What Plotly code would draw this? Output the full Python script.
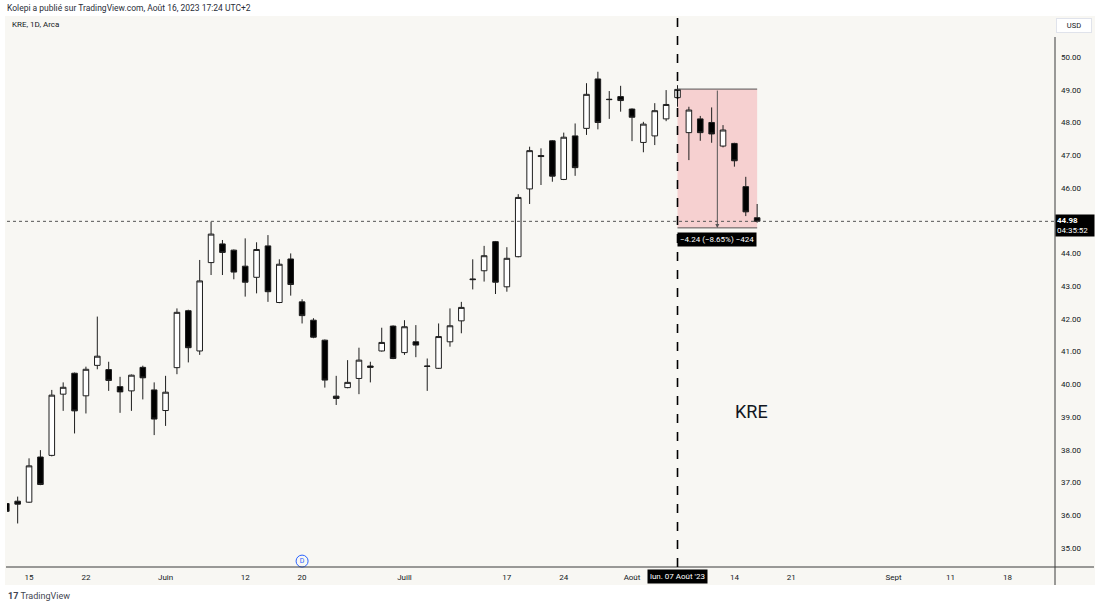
import pandas as pd
import plotly.graph_objects as go

# KRE daily candles (USD)
dates = ["2023-05-11", "2023-05-12", "2023-05-15", "2023-05-16", "2023-05-17", "2023-05-18",
         "2023-05-19", "2023-05-22", "2023-05-23", "2023-05-24", "2023-05-25", "2023-05-26",
         "2023-05-30", "2023-05-31", "2023-06-01", "2023-06-02", "2023-06-05", "2023-06-06",
         "2023-06-07", "2023-06-08", "2023-06-09", "2023-06-12", "2023-06-13", "2023-06-14",
         "2023-06-15", "2023-06-16", "2023-06-20", "2023-06-21", "2023-06-22", "2023-06-23",
         "2023-06-26", "2023-06-27", "2023-06-28", "2023-06-29", "2023-06-30", "2023-07-03",
         "2023-07-05", "2023-07-06", "2023-07-07", "2023-07-10", "2023-07-11", "2023-07-12",
         "2023-07-13", "2023-07-14", "2023-07-17", "2023-07-18", "2023-07-19", "2023-07-20",
         "2023-07-21", "2023-07-24", "2023-07-25", "2023-07-26", "2023-07-27", "2023-07-28",
         "2023-07-31", "2023-08-01", "2023-08-02", "2023-08-03", "2023-08-04", "2023-08-07",
         "2023-08-08", "2023-08-09", "2023-08-10", "2023-08-11", "2023-08-14", "2023-08-15",
         "2023-08-16"]
opens = [36.36, 36.43, 36.40, 37.78, 37.83, 39.70, 40.34, 39.65, 40.58, 40.45, 39.93, 39.80,
         40.52, 39.83, 39.20, 40.51, 42.25, 41.02, 43.72, 44.29, 44.10, 43.61, 43.27, 44.23,
         42.50, 43.83, 42.52, 41.96, 41.35, 39.64, 39.90, 40.18, 40.56, 41.02, 41.78, 40.97,
         41.30, 40.56, 40.49, 41.30, 41.94, 43.22, 43.47, 44.36, 42.98, 43.90, 45.97, 46.99,
         47.44, 46.26, 47.59, 47.82, 49.33, 48.71, 48.79, 48.41, 47.39, 47.59, 48.11, 48.76,
         47.69, 48.11, 48.00, 47.28, 47.36, 46.04, 45.09]
highs = [36.87, 36.57, 37.74, 37.99, 39.83, 40.06, 40.36, 40.54, 42.07, 40.69, 40.23, 40.30,
         40.57, 40.06, 40.26, 42.32, 42.28, 43.80, 44.97, 44.41, 44.12, 44.46, 44.34, 44.56,
         43.82, 44.00, 42.60, 42.02, 41.37, 40.26, 40.74, 41.12, 40.69, 41.73, 41.80, 41.96,
         41.81, 40.79, 41.86, 42.32, 42.52, 43.82, 44.23, 44.38, 44.19, 45.81, 47.26, 47.21,
         47.46, 47.69, 47.97, 49.20, 49.55, 48.96, 49.12, 48.43, 48.02, 48.59, 48.99, 49.14,
         48.48, 48.20, 48.46, 47.92, 47.38, 46.34, 45.51]
lows = [35.98, 35.75, 36.38, 36.92, 37.80, 39.19, 38.50, 39.11, 40.46, 39.80, 39.13, 39.19,
        39.54, 38.45, 38.73, 40.31, 40.67, 40.90, 43.34, 43.34, 43.21, 42.68, 42.78, 42.52,
        42.48, 42.71, 41.86, 41.41, 39.90, 39.37, 39.88, 39.70, 40.06, 41.00, 40.77, 40.90,
        40.83, 39.80, 40.47, 41.15, 41.56, 42.90, 43.14, 42.76, 42.83, 43.88, 45.51, 46.09,
        46.19, 46.24, 46.37, 47.62, 47.79, 48.11, 48.33, 47.43, 47.09, 47.31, 48.04, 48.48,
        46.85, 47.44, 47.38, 47.24, 46.65, 45.14, 44.94]
closes = [36.12, 36.34, 37.51, 36.94, 39.67, 39.91, 39.19, 40.46, 40.86, 40.12, 39.77, 40.28,
          40.20, 38.94, 39.76, 42.20, 41.12, 43.16, 44.59, 44.03, 43.43, 43.12, 44.12, 42.83,
          43.67, 43.05, 42.10, 41.44, 40.13, 39.57, 40.06, 40.74, 40.52, 41.28, 40.79, 41.76,
          41.20, 40.55, 41.46, 41.79, 42.35, 43.20, 43.93, 43.12, 43.85, 45.71, 47.14, 46.96,
          46.36, 47.55, 46.62, 48.86, 48.00, 48.70, 48.67, 48.16, 47.95, 48.36, 48.55, 49.01,
          48.38, 47.69, 47.65, 47.77, 46.83, 45.27, 44.98]

holidays = ["2023-05-29", "2023-06-19", "2023-07-04", "2023-09-04"]
tick_dates = ["2023-05-15", "2023-05-22", "2023-06-01", "2023-06-12", "2023-06-20", "2023-07-03",
              "2023-07-17", "2023-07-24", "2023-08-01", "2023-08-14", "2023-08-21", "2023-09-01",
              "2023-09-11", "2023-09-18"]
tick_text = ["15", "22", "Juin", "12", "20", "Juill", "17", "24", "Août", "14", "21", "Sept", "11", "18"]
# 45.00 is hidden behind the last-price tag
price_ticks = [35, 36, 37, 38, 39, 40, 41, 42, 43, 44, 46, 47, 48, 49, 50]

last_price = 44.98
measure_start = "2023-08-07"
measure_end = "2023-08-16"
measure_top = 49.02
measure_bottom = 44.78
dividend_date = "2023-06-20"

CREAM = "#f8f7f3"
INK = "#131722"
FONT = "Roboto, Liberation Sans, sans-serif"

# bars sit at midday so bodies never spill into weekend breaks
noon = pd.Timedelta(hours=12)
x = pd.to_datetime(dates) + noon
ticks_x = pd.to_datetime(tick_dates) + noon
m0 = pd.Timestamp(measure_start) + noon
m1 = pd.Timestamp(measure_end) + noon
m_mid = pd.Timestamp("2023-08-11")


def px_x(px):
    return (px - 7) / 1048


def px_y(py):
    return (567 - py) / 551


fig = go.Figure()
fig.add_trace(go.Candlestick(
    x=x, open=opens, high=highs, low=lows, close=closes,
    increasing=dict(fillcolor="#ffffff", line=dict(color="#1e1e1e", width=1)),
    decreasing=dict(fillcolor="#000000", line=dict(color="#1e1e1e", width=1)),
    hoverinfo="skip", showlegend=False,
))
fig.add_trace(go.Scatter(
    x=[pd.Timestamp(dividend_date) + noon], y=[34.60], mode="markers+text",
    marker=dict(symbol="circle", size=12, color=CREAM, line=dict(color="#2962ff", width=1)),
    text=["D"], textposition="middle center",
    textfont=dict(color="#2962ff", size=7, family=FONT),
    hoverinfo="skip", showlegend=False, cliponaxis=False,
))

shapes = [
    # chart panel
    dict(type="rect", xref="paper", yref="paper", x0=px_x(5), x1=px_x(1095), y0=px_y(585), y1=px_y(16),
         fillcolor=CREAM, line=dict(width=0), layer="below"),
    # axis borders
    dict(type="line", xref="paper", yref="paper", x0=1, x1=1, y0=px_y(585), y1=px_y(37),
         line=dict(color="#3a3a3a", width=1)),
    dict(type="line", xref="paper", yref="paper", x0=px_x(6), x1=px_x(1094), y0=0, y1=0,
         line=dict(color="#3a3a3a", width=1)),
    # measuring box
    dict(type="rect", xref="x", yref="y", x0=m0, x1=m1, y0=measure_bottom, y1=measure_top,
         fillcolor="rgba(242,54,69,0.2)", line=dict(width=0), layer="below"),
    dict(type="line", xref="x", yref="y", x0=m0, x1=m1, y0=measure_top, y1=measure_top,
         line=dict(color="#555555", width=1)),
    dict(type="line", xref="x", yref="y", x0=m0, x1=m1, y0=measure_bottom, y1=measure_bottom,
         line=dict(color="#555555", width=1)),
    # last price line
    dict(type="line", xref="paper", yref="y", x0=0, x1=1, y0=last_price, y1=last_price,
         line=dict(color="#555555", width=1, dash="dot")),
    # crosshair
    dict(type="line", xref="x", yref="paper", x0=m0, x1=m0, y0=0, y1=1,
         line=dict(color="#000000", width=1.6, dash="dash")),
]

annotations = [
    dict(text="Kolepi a publié sur TradingView.com, Août 16, 2023 17:24 UTC+2", xref="paper", yref="paper",
         x=px_x(5), y=px_y(8), xanchor="left", yanchor="middle", showarrow=False,
         font=dict(size=8.5, color="#2a2e39", family=FONT)),
    dict(text="KRE, 1D, Arca", xref="paper", yref="paper", x=px_x(10), y=px_y(25),
         xanchor="left", yanchor="middle", showarrow=False, font=dict(size=8, color=INK, family=FONT)),
    dict(text="USD", xref="paper", yref="paper", x=px_x(1074), y=px_y(26), xanchor="center",
         yanchor="middle", showarrow=False, bgcolor="#ffffff", bordercolor="#e0e3eb", borderwidth=1,
         borderpad=2, width=30, font=dict(size=7.5, color=INK, family=FONT)),
    dict(text="<b>%.2f</b><br>04:35:52" % last_price, xref="paper", yref="y", x=1.0, y=last_price,
         xanchor="left", yanchor="middle", yshift=-4, showarrow=False, align="left",
         bgcolor="#000000", borderpad=1, width=36, font=dict(size=8, color="#ffffff", family=FONT)),
    dict(text="lun. 07 Août '23", xref="x", yref="paper", x=m0, y=px_y(576.5), xanchor="center",
         yanchor="middle", showarrow=False, bgcolor="#000000", borderpad=2,
         font=dict(size=8, color="#ffffff", family=FONT)),
    dict(text="", xref="x", yref="y", axref="x", ayref="y", x=m_mid, y=measure_bottom,
         ax=m_mid, ay=measure_top, showarrow=True, arrowhead=2, arrowsize=0.8, arrowwidth=1,
         arrowcolor="#555555"),
    dict(text="−4.24 (−8.65%) −424", xref="x", yref="y", x=m_mid, y=measure_bottom,
         xanchor="center", yanchor="top", yshift=-4, showarrow=False, bgcolor="#000000",
         borderpad=2, font=dict(size=8, color="#ffffff", family=FONT)),
    dict(text="KRE", xref="paper", yref="paper", x=px_x(751), y=px_y(411), xanchor="center",
         yanchor="middle", showarrow=False, font=dict(size=18, color=INK, family=FONT)),
    dict(text="<b>17</b> TradingView", xref="paper", yref="paper", x=px_x(6), y=px_y(596),
         xanchor="left", yanchor="middle", showarrow=False, font=dict(size=9, color="#434651", family=FONT)),
]

fig.update_layout(
    width=1100, height=607,
    margin=dict(l=7, r=45, t=16, b=40),
    paper_bgcolor="#ffffff", plot_bgcolor=CREAM,
    font=dict(family=FONT, color=INK),
    hovermode=False, dragmode=False,
    shapes=shapes, annotations=annotations,
    xaxis=dict(
        type="date",
        range=[pd.Timestamp("2023-05-11 13:30"), pd.Timestamp("2023-09-22 16:20")],
        rangebreaks=[dict(bounds=["sat", "mon"]), dict(values=holidays)],
        rangeslider=dict(visible=False),
        tickmode="array", tickvals=ticks_x, ticktext=tick_text,
        showgrid=False, zeroline=False, showline=False, ticks="",
        tickfont=dict(size=8, color=INK), ticklabelstandoff=4,
    ),
    yaxis=dict(
        side="right", range=[34.42, 51.253],
        tickmode="array", tickvals=price_ticks, ticktext=["%.2f" % p for p in price_ticks],
        showgrid=False, zeroline=False, showline=False, ticks="",
        tickfont=dict(size=8, color=INK), ticklabelstandoff=5,
    ),
)

# the page's default body margin would push the 1100x607 figure off the window
fig.write_html("out.html", config={"displayModeBar": False},
               post_script="document.body.style.margin='0px';")
